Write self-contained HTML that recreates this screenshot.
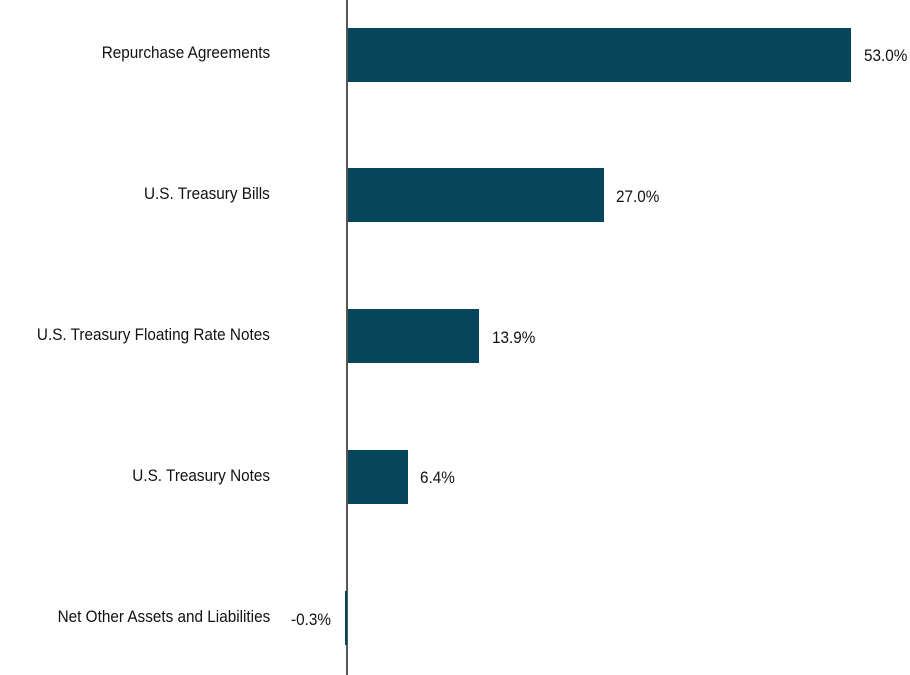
<!DOCTYPE html>
<html><head><meta charset="utf-8"><style>
html,body{margin:0;padding:0;background:#fff;}
#c{position:relative;width:910px;height:675px;overflow:hidden;font-family:"Liberation Sans",Arial,sans-serif;color:#111;}
.bar{position:absolute;background:#06465b;}
.lab{position:absolute;right:640px;font-size:17px;white-space:nowrap;transform:scaleX(0.9);transform-origin:right center;line-height:20px;}
.val{position:absolute;font-size:17px;white-space:nowrap;transform:scaleX(0.9);transform-origin:left center;line-height:20px;}
</style></head><body><div id="c">
<div style="position:absolute;left:346px;top:0;width:1.5px;height:675px;background:#555;"></div>

<div class="bar" style="left:348px;top:28px;width:503px;height:54px;"></div>
<div class="bar" style="left:348px;top:168px;width:256px;height:54px;"></div>
<div class="bar" style="left:348px;top:309px;width:131px;height:54px;"></div>
<div class="bar" style="left:348px;top:450px;width:60px;height:54px;"></div>
<div class="bar" style="left:345px;top:591px;width:2px;height:54px;"></div>

<div class="lab" style="top:43px;">Repurchase Agreements</div>
<div class="lab" style="top:184px;">U.S. Treasury Bills</div>
<div class="lab" style="top:325px;">U.S. Treasury Floating Rate Notes</div>
<div class="lab" style="top:466px;">U.S. Treasury Notes</div>
<div class="lab" style="top:607px;">Net Other Assets and Liabilities</div>

<div class="val" style="left:864px;top:46px;">53.0%</div>
<div class="val" style="left:616px;top:187px;">27.0%</div>
<div class="val" style="left:492px;top:328px;">13.9%</div>
<div class="val" style="left:420px;top:468px;">6.4%</div>
<div class="val" style="left:291px;top:610px;">-0.3%</div>
</div></body></html>
